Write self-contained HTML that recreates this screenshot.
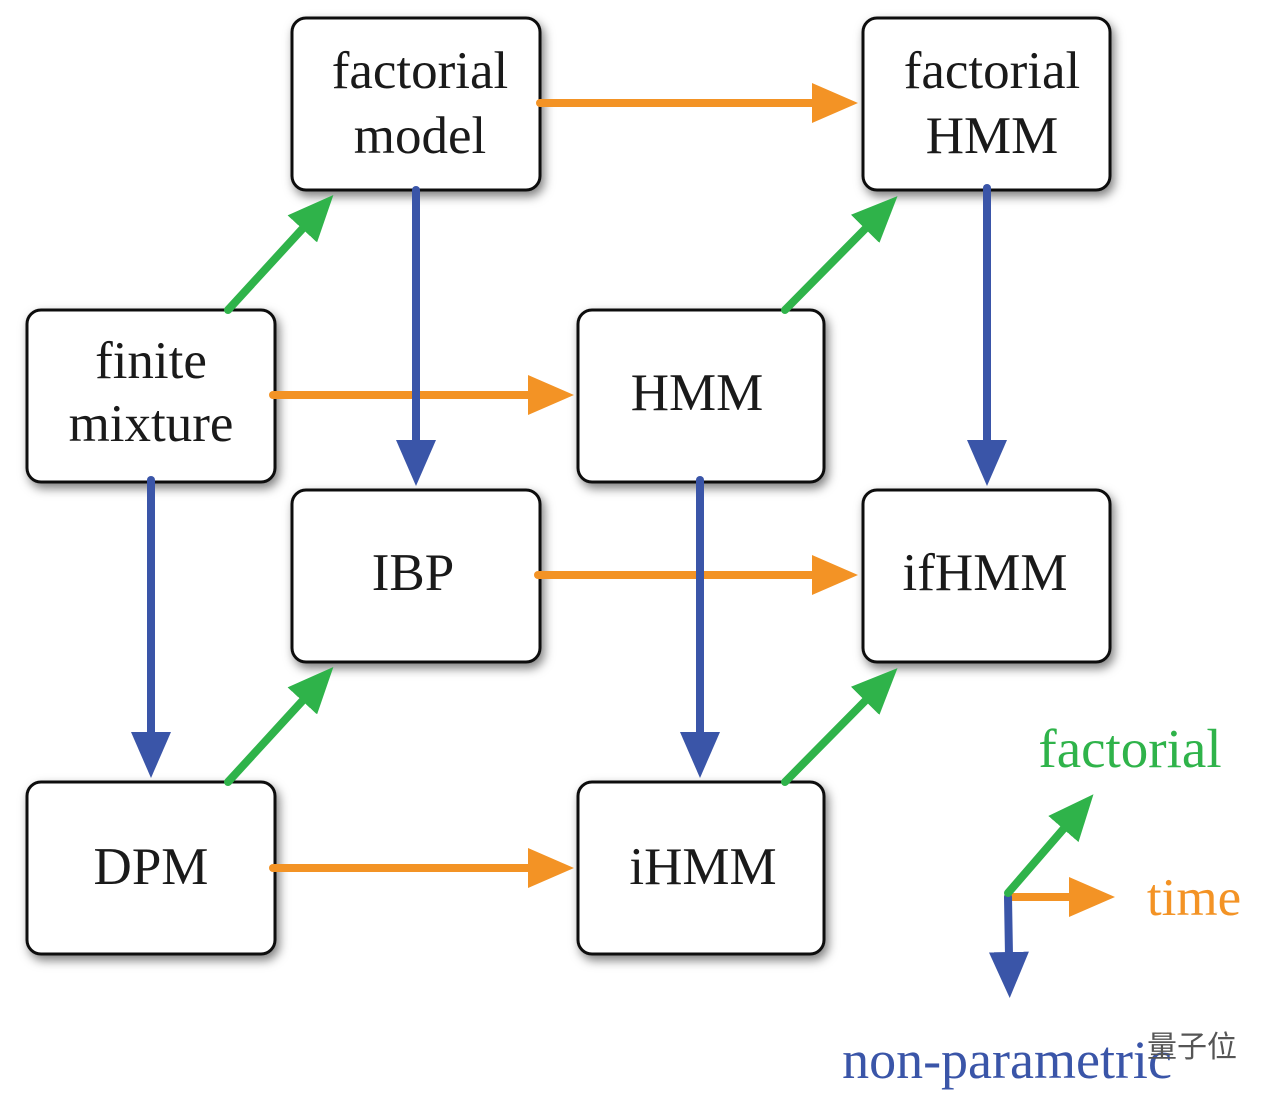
<!DOCTYPE html>
<html><head><meta charset="utf-8"><style>
html,body{margin:0;padding:0;background:#fff;}
svg{display:block;}
text{font-family:"Liberation Serif",serif;}
.n{font-size:53px;fill:#1a1a1a;text-anchor:middle;}
</style></head><body>
<svg width="1280" height="1102" viewBox="0 0 1280 1102" xmlns="http://www.w3.org/2000/svg">
<defs>
<filter id="sh" x="-10%" y="-10%" width="130%" height="130%"><feDropShadow dx="3" dy="5" stdDeviation="5" flood-color="#000" flood-opacity="0.5"/></filter>
<marker id="ho" markerUnits="userSpaceOnUse" markerWidth="48" markerHeight="40" refX="4" refY="20" orient="auto"><path d="M0,0 L46,20 L0,40 z" fill="#f39325"/></marker>
<marker id="hb" markerUnits="userSpaceOnUse" markerWidth="48" markerHeight="40" refX="4" refY="20" orient="auto"><path d="M0,0 L46,20 L0,40 z" fill="#3a55a8"/></marker>
<marker id="hg" markerUnits="userSpaceOnUse" markerWidth="48" markerHeight="40" refX="4" refY="20" orient="auto"><path d="M0,0 L46,20 L0,40 z" fill="#2fb34a"/></marker>
</defs>
<g fill="#fff" stroke="#111" stroke-width="3" filter="url(#sh)">
<rect x="292" y="18" width="248" height="172" rx="14"/>
<rect x="863" y="18" width="247" height="172" rx="14"/>
<rect x="27" y="310" width="248" height="172" rx="14"/>
<rect x="578" y="310" width="246" height="172" rx="14"/>
<rect x="292" y="490" width="248" height="172" rx="14"/>
<rect x="863" y="490" width="247" height="172" rx="14"/>
<rect x="27" y="782" width="248" height="172" rx="14"/>
<rect x="578" y="782" width="246" height="172" rx="14"/>
</g>
<g stroke-width="8" stroke-linecap="round" fill="none">
<g stroke="#f39325">
<line x1="540" y1="103" x2="816" y2="103" marker-end="url(#ho)"/>
<line x1="273" y1="395" x2="532" y2="395" marker-end="url(#ho)"/>
<line x1="538" y1="575" x2="816" y2="575" marker-end="url(#ho)"/>
<line x1="273" y1="868" x2="532" y2="868" marker-end="url(#ho)"/>
<line x1="1008" y1="897" x2="1073" y2="897" marker-end="url(#ho)"/>
</g>
<g stroke="#3a55a8">
<line x1="416" y1="190" x2="416" y2="444" marker-end="url(#hb)"/>
<line x1="987" y1="188" x2="987" y2="444" marker-end="url(#hb)"/>
<line x1="151" y1="480" x2="151" y2="736" marker-end="url(#hb)"/>
<line x1="700" y1="480" x2="700" y2="736" marker-end="url(#hb)"/>
<line x1="1008" y1="897" x2="1009" y2="956" marker-end="url(#hb)"/>
</g>
<g stroke="#2fb34a">
<line x1="228" y1="310" x2="305" y2="226" marker-end="url(#hg)"/>
<line x1="785" y1="310" x2="868" y2="226" marker-end="url(#hg)"/>
<line x1="228" y1="782" x2="305" y2="698" marker-end="url(#hg)"/>
<line x1="785" y1="782" x2="868" y2="698" marker-end="url(#hg)"/>
<line x1="1008" y1="893" x2="1066" y2="826" marker-end="url(#hg)"/>
</g>
</g>
<text class="n" x="420" y="88">factorial</text>
<text class="n" x="420" y="153">model</text>
<text class="n" x="992" y="88">factorial</text>
<text class="n" x="992" y="153">HMM</text>
<text class="n" x="151" y="378">finite</text>
<text class="n" x="151" y="441">mixture</text>
<text class="n" x="697" y="410">HMM</text>
<text class="n" x="413" y="590">IBP</text>
<text class="n" x="985" y="590">ifHMM</text>
<text class="n" x="151" y="884">DPM</text>
<text class="n" x="703" y="884">iHMM</text>
<text x="1130" y="767" font-size="55" fill="#2fb34a" text-anchor="middle">factorial</text>
<text x="1194" y="915" font-size="53" fill="#f39325" text-anchor="middle">time</text>
<text x="1007" y="1078" font-size="54" fill="#3a55a8" text-anchor="middle">non-parametric</text>
<text x="1192" y="1057" font-size="30" fill="#555" text-anchor="middle" style="font-family:'Noto Sans CJK SC',sans-serif">量子位</text>
</svg>
</body></html>
